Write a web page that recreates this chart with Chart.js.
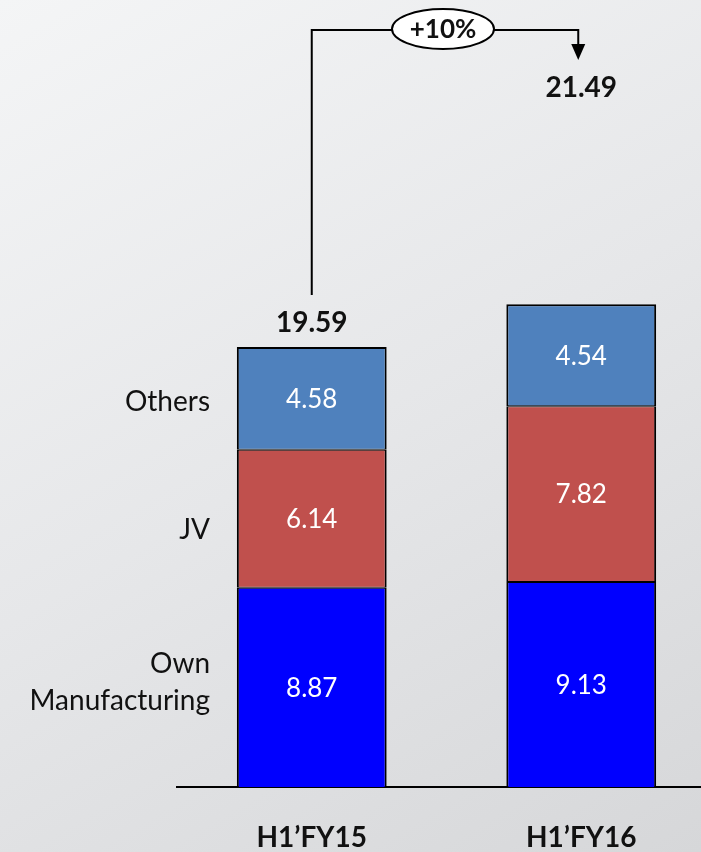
<!DOCTYPE html>
<html>
<head>
<meta charset="utf-8">
<script src="https://cdn.jsdelivr.net/npm/chart.js@4"></script>
<style>
  html, body { margin: 0; padding: 0; overflow: hidden; }
  body {
    width: 701px; height: 852px;
    background: linear-gradient(150deg, #f4f5f6 0%, #e6e7e9 50%, #d6d7d9 100%);
  }
  #wrap { width: 716px; height: 852px; position: relative; }
</style>
</head>
<body>
<div id="wrap"><canvas id="revenue"></canvas></div>
<script>
var periods = ['H1\u2019FY15', 'H1\u2019FY16'];
var ownManufacturing = [8.87, 9.13];
var jv = [6.14, 7.82];
var others = [4.58, 4.54];
var segmentNames = ['Own\nManufacturing', 'JV', 'Others'];

var FONT = 'Lato, "Open Sans", sans-serif';

var totals = periods.map(function (p, i) {
  return ownManufacturing[i] + jv[i] + others[i];
});

// labels inside the segments, names on the left, totals and the growth bracket
var annotate = {
  id: 'annotate',
  afterDatasetsDraw: function (chart) {
    var ctx = chart.ctx;
    var area = chart.chartArea;
    ctx.save();

    // segment values
    ctx.fillStyle = '#ffffff';
    ctx.font = '26px ' + FONT;
    ctx.textAlign = 'center';
    ctx.textBaseline = 'middle';
    chart.data.datasets.forEach(function (ds, di) {
      chart.getDatasetMeta(di).data.forEach(function (bar, i) {
        ctx.fillText(ds.data[i].toFixed(2), bar.x, (bar.y + bar.base) / 2 + 1);
      });
    });

    // segment names next to the first bar
    ctx.fillStyle = '#111111';
    ctx.font = '28px ' + FONT;
    ctx.textAlign = 'right';
    var nameX = area.left + 33;
    var offsets = [-5, 11, 4];
    chart.data.datasets.forEach(function (ds, di) {
      var bar = chart.getDatasetMeta(di).data[0];
      var mid = (bar.y + bar.base) / 2 + offsets[di];
      var lines = segmentNames[di].split('\n');
      lines.forEach(function (ln, k) {
        ctx.fillText(ln, nameX, mid + (k - (lines.length - 1) / 2) * 37);
      });
    });

    // totals
    var top = chart.getDatasetMeta(2).data;
    ctx.fillStyle = '#111111';
    ctx.font = 'bold 28px ' + FONT;
    ctx.textAlign = 'center';
    ctx.fillText(totals[0].toFixed(2), top[0].x, top[0].y - 24);
    var arrowX = top[1].x - 3;
    ctx.fillText(totals[1].toFixed(2), top[1].x, area.top + 58);

    // growth bracket
    var lineY = area.top;
    ctx.strokeStyle = '#000000';
    ctx.lineWidth = 2;
    ctx.beginPath();
    ctx.moveTo(top[0].x, top[0].y - 52);
    ctx.lineTo(top[0].x, lineY);
    ctx.lineTo(arrowX, lineY);
    ctx.lineTo(arrowX, lineY + 16);
    ctx.stroke();
    ctx.fillStyle = '#000000';
    ctx.beginPath();
    ctx.moveTo(arrowX - 7, lineY + 14);
    ctx.lineTo(arrowX + 7, lineY + 14);
    ctx.lineTo(arrowX, lineY + 30);
    ctx.closePath();
    ctx.fill();

    var cx = (top[0].x + arrowX) / 2 - 2;
    ctx.beginPath();
    ctx.ellipse(cx, lineY - 1, 51, 20, 0, 0, Math.PI * 2);
    ctx.fillStyle = '#ffffff';
    ctx.fill();
    ctx.stroke();
    var growth = Math.round((totals[1] / totals[0] - 1) * 100);
    ctx.fillStyle = '#111111';
    ctx.font = 'bold 26px ' + FONT;
    ctx.fillText('+' + growth + '%', cx, lineY);

    ctx.restore();
  }
};

new Chart(document.getElementById('revenue'), {
  type: 'bar',
  data: {
    labels: periods,
    datasets: [
      { label: 'Own Manufacturing', data: ownManufacturing, backgroundColor: '#0000ff',
        borderColor: '#000000', borderWidth: { top: 1, bottom: 0, left: 2, right: 2 }, borderSkipped: false },
      { label: 'JV', data: jv, backgroundColor: '#c0504d',
        borderColor: '#000000', borderWidth: { top: 1, bottom: 1, left: 2, right: 2 }, borderSkipped: false },
      { label: 'Others', data: others, backgroundColor: '#4f81bd',
        borderColor: '#000000', borderWidth: { top: 2, bottom: 1, left: 2, right: 2 }, borderSkipped: false }
    ]
  },
  options: {
    responsive: true,
    maintainAspectRatio: false,
    animation: false,
    layout: { padding: { top: 30, left: 177, right: 0, bottom: 0 } },
    plugins: { legend: { display: false }, tooltip: { enabled: false } },
    datasets: { bar: { categoryPercentage: 0.556, barPercentage: 1 } },
    scales: {
      x: {
        stacked: true,
        grid: { display: false, drawTicks: false },
        border: { display: true, color: '#000000', width: 2 },
        ticks: { color: '#111111', font: { family: FONT, size: 28, weight: 'bold' }, padding: 34 },
        afterFit: function (axis) { axis.height = 65; }
      },
      y: {
        stacked: true,
        display: false,
        min: 0,
        max: 33.7
      }
    }
  },
  plugins: [annotate]
});
</script>
</body>
</html>
